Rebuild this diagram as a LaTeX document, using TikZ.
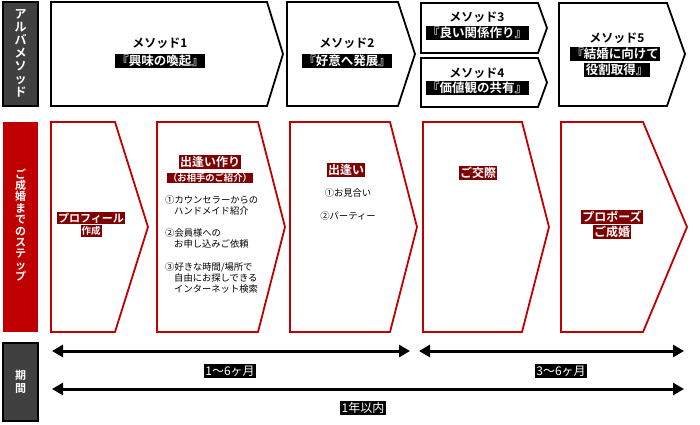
\documentclass[tikz,border=0pt]{standalone}
\usepackage{fontspec}
\setmainfont{Noto Sans CJK JP}[BoldFont={Noto Sans CJK JP Bold}]
\usetikzlibrary{arrows.meta}
\definecolor{barred}{HTML}{C00000}
\definecolor{darkred}{HTML}{7F0000}
\definecolor{bargray}{HTML}{404040}
\begin{document}
\begin{tikzpicture}[
    x=1pt, y=-1pt,
    sidebar/.style={draw=black, line width=1.2pt, fill=bargray},
    sidetext/.style={text=white, align=center, font=\bfseries\fontsize{12}{13}\selectfont},
    methodbox/.style={draw=black, line width=1.8pt, fill=white, line join=miter},
    stepbox/.style={draw=barred, line width=1.8pt, fill=white, line join=miter},
    mtitle/.style={font=\bfseries\fontsize{12}{13}\selectfont, inner sep=0pt},
    mhl/.style={fill=black, text=white, inner sep=1.5pt, font=\bfseries\fontsize{12.5}{14}\selectfont},
    shl/.style={fill=darkred, text=white, inner sep=1pt, font=\bfseries\fontsize{12}{13}\selectfont},
    note/.style={font=\fontsize{9.3}{11}\selectfont, align=left, inner sep=0pt},
    plabel/.style={fill=black, text=white, inner sep=1.5pt, font=\fontsize{12}{13}\selectfont},
    period/.style={{Triangle[length=11pt,width=12pt]}-{Triangle[length=11pt,width=12pt]}, line width=3pt}
]
\useasboundingbox (0,0) rectangle (700,424);

% side labels
\draw[sidebar] (3,2) rectangle (38,106);
\node[sidetext] (lab1) at (20.5,53) {ア\\ル\\バ\\メ\\ソ\\ッ\\ド};
\fill[barred] (3,122) rectangle (38,332);
\node[sidetext, font=\bfseries\fontsize{11}{11.4}\selectfont] (lab2) at (20.5,225) {ご\\成\\婚\\ま\\で\\の\\ス\\テ\\ッ\\プ};
\draw[sidebar] (3,343) rectangle (38,421);
\node[sidetext, font=\bfseries\fontsize{11}{12.5}\selectfont] (lab3) at (20.5,382) {期\\間};

% method row
\draw[methodbox] (51,2) -- (267,2) -- (283,54) -- (267,106) -- (51,106) -- cycle;
\draw[methodbox] (287,2) -- (398,2) -- (415,54) -- (398,106) -- (287,106) -- cycle;
\draw[methodbox] (421,3) -- (538,3) -- (547,28) -- (538,53) -- (421,53) -- cycle;
\draw[methodbox] (421,58) -- (538,58) -- (547,82.5) -- (538,107) -- (421,107) -- cycle;
\draw[methodbox] (559,3) -- (667,3) -- (685,54) -- (667,106) -- (559,106) -- cycle;

\node[mtitle] (m1a) at (160,43) {メソッド1};
\node[mhl] (m1b) at (160,61) {『興味の喚起』};
\node[mtitle] (m2a) at (347,43) {メソッド2};
\node[mhl] (m2b) at (347,61) {『好意へ発展』};
\node[mtitle] (m3a) at (477,17) {メソッド3};
\node[mhl] (m3b) at (477,33) {『良い関係作り』};
\node[mtitle] (m4a) at (477,73) {メソッド4};
\node[mhl] (m4b) at (477,88) {『価値観の共有』};
\node[mtitle] (m5a) at (617,38) {メソッド5};
\node[mhl] (m5b) at (615,54) {『結婚に向けて};
\node[mhl] (m5c) at (617,70) {役割取得』};

% step row
\draw[stepbox] (51,122) -- (115,122) -- (148,227) -- (115,332) -- (51,332) -- cycle;
\draw[stepbox] (157,122) -- (258,122) -- (285,227) -- (258,332) -- (157,332) -- cycle;
\draw[stepbox] (290,122) -- (390,122) -- (417,227) -- (390,332) -- (290,332) -- cycle;
\draw[stepbox] (423,122) -- (522,122) -- (549,227) -- (522,332) -- (423,332) -- cycle;
\draw[stepbox] (561,122) -- (643,122) -- (687,227) -- (643,332) -- (561,332) -- cycle;

\node[shl, font=\bfseries\fontsize{11}{12}\selectfont] (s1a) at (91,218) {プロフィール};
\node[shl, font=\bfseries\fontsize{9.5}{11}\selectfont] (s1b) at (91,231) {作成};

\node[shl] (s2a) at (210,162) {出逢い作り};
\node[shl, font=\bfseries\fontsize{9.3}{11}\selectfont] (s2b) at (210,178) {（お相手のご紹介）};
\node[note, anchor=north west] (s2c) at (165,195) {①カウンセラーからの\\\hspace{9pt}ハンドメイド紹介};
\node[note, anchor=north west] (s2d) at (165,228) {②会員様への\\\hspace{9pt}お申し込みご依頼};
\node[note, anchor=north west] (s2e) at (165,262) {③好きな時間/場所で\\\hspace{9pt}自由にお探しできる\\\hspace{9pt}インターネット検索};

\node[shl] (s3a) at (346,170) {出逢い};
\node[note] (s3b) at (348,193) {①お見合い};
\node[note] (s3c) at (348,216) {②パーティー};

\node[shl] (s4a) at (478,173) {ご交際};

\node[shl] (s5a) at (612,217) {プロポーズ};
\node[shl] (s5b) at (612,232) {ご成婚};

% period
\coordinate (p1l) at (52,351);
\coordinate (p1r) at (410,351);
\coordinate (p2l) at (419,351);
\coordinate (p2r) at (684,351);
\coordinate (p3l) at (52,389);
\coordinate (p3r) at (684,389);
\draw[period] (p1l) -- (p1r);
\draw[period] (p2l) -- (p2r);
\draw[period] (p3l) -- (p3r);

\node[plabel] (t1) at (230,371) {1〜6ヶ月};
\node[plabel] (t2) at (561,371) {3〜6ヶ月};
\node[plabel] (t3) at (363,408) {1年以内};
\end{tikzpicture}
\end{document}
